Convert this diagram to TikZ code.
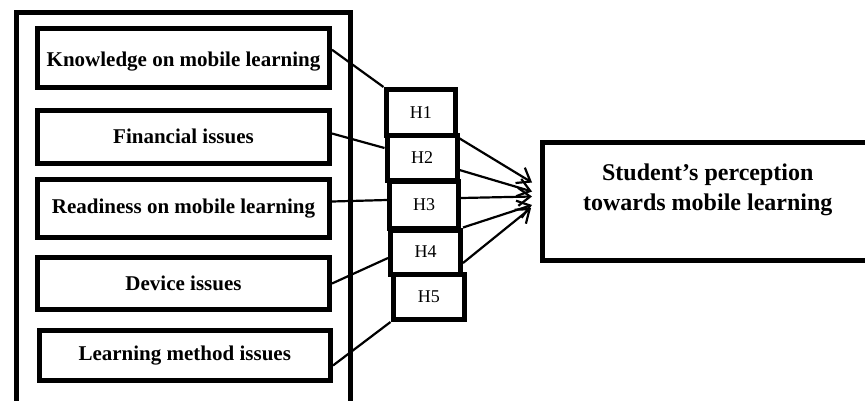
\documentclass[tikz,border=0pt]{standalone}
\usepackage{fontspec}
\setmainfont{Liberation Serif}
\usetikzlibrary{arrows.meta}
\begin{document}
\begin{tikzpicture}[x=1pt,y=-1pt,
  factorbox/.style={draw=black, line width=5pt, rectangle, inner sep=0pt,
    font=\fontsize{21}{25}\selectfont\bfseries},
  hbox/.style={draw=black, line width=5pt, rectangle, inner sep=0pt,
    minimum width=70pt, minimum height=45pt, font=\fontsize{18}{22}\selectfont},
  outerbox/.style={draw=black, line width=5pt, rectangle, inner sep=0pt},
  conn/.style={draw=black, line width=2.2pt},
  arr/.style={draw=black, line width=2.2pt, -{Straight Barb[length=12pt,width=18pt,line width=2.2pt]}}
]
\clip (0,0) rectangle (865,400);
\fill[white] (0,0) rectangle (865,400);

% outer frame (runs past the bottom edge)
\node[outerbox, minimum width=333.5pt, minimum height=420pt] (outer) at (183.25,222.5) {};

% factor boxes
\node[factorbox, minimum width=292pt, minimum height=59.5pt,
  label={[font=\fontsize{21}{25}\selectfont\bfseries, yshift=-4pt]center:Knowledge on mobile learning}] (k) at (183.5,57.75) {};
\node[factorbox, minimum width=292pt, minimum height=53pt] (f) at (183.5,136.5) {Financial issues};
\node[factorbox, minimum width=292pt, minimum height=58pt] (r) at (183.5,208.5) {Readiness on mobile learning};
\node[factorbox, minimum width=292pt, minimum height=52pt] (d) at (183.5,283.5) {Device issues};
\node[factorbox, minimum width=291.5pt, minimum height=50pt] (l) at (184.75,355.5) {Learning method issues};

% hypothesis boxes
\node[hbox, minimum width=69.5pt, minimum height=45.5pt] (h1) at (420.75,112.25) {H1};
\node[hbox] (h2) at (422,158) {H2};
\node[hbox, minimum width=69pt, minimum height=47pt] (h3) at (424,205) {H3};
\node[hbox, minimum height=44pt] (h4) at (425.5,252) {H4};
\node[hbox, minimum width=71.5pt, minimum height=45.5pt] (h5) at (428.75,296.75) {H5};

% target box (runs past the right edge)
\node[outerbox, minimum width=332.5pt, minimum height=118pt,
  label={[align=center, font=\fontsize{24}{30}\selectfont\bfseries, yshift=12pt, xshift=-1pt]center:Student’s perception\\towards mobile learning}] (t) at (708.75,201.5) {};

% connectors factor -> hypothesis
\draw[conn] ([yshift=8pt]k.east) -- (h1.north west);
\draw[conn] ([yshift=3pt]f.east) -- ([yshift=10pt]h2.west);
\draw[conn] ([yshift=7pt]r.east) -- ([yshift=5pt]h3.west);
\draw[conn] (d.east) -- ([yshift=-6pt]h4.west);
\draw[conn] ([yshift=-10pt]l.east) -- (h5.south west);

% arrows hypothesis -> target
\draw[arr] (h1.south east) -- ([xshift=-8pt,yshift=19pt]t.west);
\draw[arr] ([yshift=-12pt]h2.east) -- ([xshift=-8pt,yshift=10pt]t.west);
\draw[arr] ([yshift=7pt]h3.east) -- ([xshift=-8pt,yshift=5pt]t.west);
\draw[arr] (h4.north east) -- ([xshift=-8pt,yshift=-3.5pt]t.west);
\draw[arr] ([yshift=-11pt]h4.east) -- ([xshift=-9pt,yshift=-6.5pt]t.west);
\end{tikzpicture}
\end{document}
